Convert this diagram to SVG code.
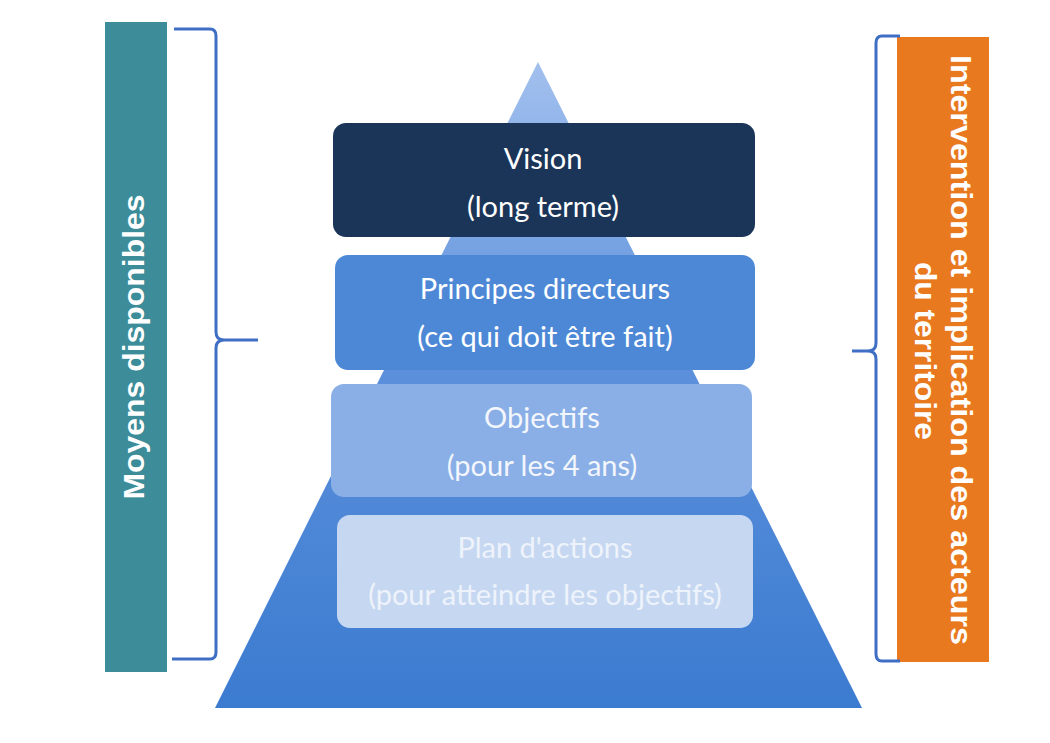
<svg xmlns="http://www.w3.org/2000/svg" width="1050" height="743" viewBox="0 0 1050 743">
<defs>
<linearGradient id="pyr" x1="0" y1="0" x2="0" y2="1">
<stop offset="0" stop-color="#a2c0ee"/>
<stop offset="0.45" stop-color="#5e91dc"/>
<stop offset="1" stop-color="#3b7bd0"/>
</linearGradient>
</defs>
<style>
.box{rx:13px;ry:13px}
.t{font-family:Lato,"Open Sans","Liberation Sans",sans-serif;font-size:29px;text-anchor:middle}
.side{font-family:"Liberation Sans",Arial,sans-serif;font-weight:bold;fill:#ffffff;text-anchor:middle}
.brace{fill:none;stroke:#3f6fc4;stroke-width:3;stroke-linejoin:round}
</style>
<rect width="1050" height="743" fill="#ffffff"/>
<g id="pyramid">
<polygon points="538,62 862,708 215,708" fill="url(#pyr)"/>
</g>
<g id="moyens">
<rect x="105" y="22" width="62" height="650" fill="#3c8c99"/>
<text class="side" font-size="30" textLength="305" lengthAdjust="spacingAndGlyphs" transform="translate(144,347) rotate(-90)">Moyens disponibles</text>
</g>
<g id="intervention">
<rect x="897" y="37" width="92" height="625" fill="#e8791f"/>
<text class="side" font-size="29" textLength="590" lengthAdjust="spacingAndGlyphs" transform="translate(951,350) rotate(90)">Intervention et implication des acteurs</text>
<text class="side" font-size="29" textLength="178" lengthAdjust="spacingAndGlyphs" transform="translate(915,351) rotate(90)">du territoire</text>
</g>
<g id="connectors">
<path class="brace" d="M174,29 H210 Q216,29 216,36 V332 Q216,340 224,340 H258 M224,340 Q216,340 216,348 V652 Q216,659 210,659 H172"/>
<path class="brace" d="M900,36 H882 Q876,36 876,43 V343 Q876,351 868,351 H852 M868,351 Q876,351 876,359 V654 Q876,661 882,661 H900"/>
</g>
<g id="vision">
<rect class="box" x="333" y="123" width="422" height="114" fill="#1b3558"/>
<text class="t" x="543" y="169" fill="#ffffff">Vision</text>
<text class="t" x="543" y="217" fill="#ffffff">(long terme)</text>
</g>
<g id="principes">
<rect class="box" x="335" y="255" width="420" height="115" fill="#4d88d6"/>
<text class="t" x="545" y="299" fill="#ffffff">Principes directeurs</text>
<text class="t" x="545" y="347" fill="#ffffff">(ce qui doit être fait)</text>
</g>
<g id="objectifs">
<rect class="box" x="331" y="384" width="421" height="113" fill="#89afe6"/>
<text class="t" x="542" y="428" fill="#f3f6fc">Objectifs</text>
<text class="t" x="542" y="476" fill="#f3f6fc">(pour les 4 ans)</text>
</g>
<g id="plan">
<rect class="box" x="337" y="515" width="416" height="113" fill="#c6d8f1"/>
<text class="t" x="545" y="558" fill="#eef3fb">Plan d'actions</text>
<text class="t" x="545" y="605" fill="#eef3fb">(pour atteindre les objectifs)</text>
</g>
</svg>
